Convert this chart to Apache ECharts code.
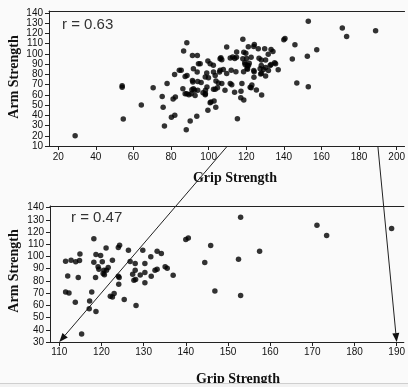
<!DOCTYPE html>
<html>
<head>
<meta charset="utf-8">
<script src="https://cdn.jsdelivr.net/npm/echarts@6/dist/echarts.min.js"></script>
<style>
  html, body { margin: 0; padding: 0; background: #fafafa; }
  #chart { width: 408px; height: 387px; }
</style>
</head>
<body>
<div id="chart"></div>
<script>
// grip vs arm strength, subjects with grip below 110 (top panel only)
const lowGrip = [
  [29,20],[54,69],[54,67.5],[54.6,36.5],[64.2,50],[70.5,67],[75.3,58.5],[75.8,48],[77.9,71],[76.5,29.5],
  [80.2,38],[82,40],[81.1,56],[82.3,58],[81.9,80],[84.4,84],[85.4,84],[86.7,103],[88.4,111],[87.5,78],
  [86.3,66],[87.5,61],[88.4,61],[88.1,26],[90.2,34.5],[90.7,61],[91.1,65],[91.4,74],[91.6,72.5],[91.4,98.6],
  [94,98.6],[94.6,90.5],[91.9,85.6],[93.9,82.3],[92.5,64.4],[92.8,59.5],[94.2,64.4],[93.7,39],[91.9,66],[94.2,73],
  [95.5,90.5],[88.5,79],[99.6,93],[100.8,90.5],[102.5,89],[106.1,95.4],[109.6,106.8],[99,81.4],[102.6,82.3],[106.1,84],
  [107.8,84.7],[109.6,80.8],[98.2,77.4],[99.9,76.8],[105.2,71.6],[107,71],[98.2,60.2],[102.6,65.4],[103.5,65.4],[108.7,64.4],
  [100.8,52.4],[102.9,54],[99.6,45],[103.8,48],[89.5,60],[98.3,64.4],[98.3,61],[99.1,67.7],[103.9,73.5],[106.5,96.3],
  [107,94.4],[105.8,82.3],[103.5,79],[104.7,67],[101.2,53],[97,62],[96,72]
];
// subjects with grip 110 and up (both panels)
const highGrip = [
  [111.5,96],[112.8,97],[113.9,95.6],[114.9,102],[114.8,96.7],[112,84],[114.5,82.7],[111.5,71],[112.3,70],[113.8,62.5],
  [115.3,36.6],[117.2,63.6],[117.1,57.3],[117.7,71],[118.2,114.4],[118.2,95.3],[118.6,82.7],[118.7,54.9],[118.7,101.6],[119.2,91.5],
  [119.4,89.6],[119.8,100.8],[120.2,95.6],[120.6,88.7],[120.4,86],[120.7,85],[121.1,107],[121.2,88.7],[121.6,90.9],[122.6,96.9],
  [122.1,67.4],[122.6,66.9],[123,69.6],[124,107.3],[124.3,109.2],[124,83.8],[124.2,82.7],[124.1,77.3],[125.4,64.7],[126.4,105.1],
  [126.8,95.8],[128,94.2],[128,88.7],[127.4,85.5],[127.7,80.5],[128.1,81.1],[128.2,59.8],[129.2,84.9],[129.8,105.1],[130.3,94.2],
  [130.3,86.8],[130.3,78.4],[131.7,99.7],[131.8,83.8],[132.7,88.7],[133.2,89.6],[133.2,104.3],[134.2,102.4],[135.1,91.5],[135.6,90.4],
  [137,84.6],[140,113.9],[140.6,115.2],[144.5,95],[145.9,108.9],[146.9,71.7],[152.5,97.7],[153,132.1],[153,68],[157.5,104.2],
  [171.1,125.5],[173.4,117.1],[188.8,122.8]
];

const topXTicks = [20, 40, 60, 80, 100, 120, 140, 160, 180, 200];
const topYTicks = [10, 20, 30, 40, 50, 60, 70, 80, 90, 100, 110, 120, 130, 140];
const bottomXTicks = [110, 120, 130, 140, 150, 160, 170, 180, 190];
const bottomYTicks = [30, 40, 50, 60, 70, 80, 90, 100, 110, 120, 130, 140];
const zoomRange = [110, 190];
const rValues = ['r = 0.63', 'r = 0.47'];

const ink = '#222';

function valueAxis(grid, min, max, ticks, margin) {
  return {
    type: 'value',
    gridIndex: grid,
    min: min,
    max: max,
    axisLine: { show: true, onZero: false, lineStyle: { color: ink, width: 1 } },
    axisTick: { show: true, length: 4, customValues: ticks, lineStyle: { color: ink } },
    axisLabel: { customValues: ticks, color: '#111', fontSize: 10, fontFamily: 'Liberation Sans', margin: margin || 6 },
    splitLine: { show: false }
  };
}

// plain line along the top of a panel
function topBorder(grid, min, max) {
  return {
    type: 'value', gridIndex: grid, position: 'top', min: min, max: max,
    axisLine: { show: true, onZero: false, lineStyle: { color: ink, width: 1 } },
    axisTick: { show: false }, axisLabel: { show: false }, splitLine: { show: false }
  };
}

const titleFont = 'bold 14px "Liberation Serif"';

const chart = echarts.init(document.getElementById('chart'));
chart.setOption({
  animation: false,
  backgroundColor: '#fafafa',
  grid: [
    { left: 49, top: 11, width: 359, height: 135 },
    { left: 50, top: 206, width: 358, height: 136 }
  ],
  xAxis: [
    valueAxis(0, 15.1, 204.2, topXTicks),
    topBorder(0, 15.1, 204.2),
    valueAxis(1, 107.8, 191.7, bottomXTicks, 5),
    topBorder(1, 107.8, 191.7)
  ],
  yAxis: [
    valueAxis(0, 10, 142, topYTicks),
    valueAxis(1, 30, 141.3, bottomYTicks)
  ],
  series: [
    {
      type: 'scatter', xAxisIndex: 0, yAxisIndex: 0,
      symbol: 'circle', symbolSize: 5.5,
      itemStyle: { color: '#000' },
      data: lowGrip.concat(highGrip)
    },
    {
      type: 'scatter', xAxisIndex: 2, yAxisIndex: 1,
      symbol: 'circle', symbolSize: 5.5,
      itemStyle: { color: '#000' },
      data: highGrip
    }
  ]
});

function label(text, x, y, font, fill, align, rotation) {
  return {
    type: 'text', x: x, y: y, rotation: rotation || 0,
    style: { text: text, font: font, fill: fill, textAlign: align, align: align, textVerticalAlign: 'middle', verticalAlign: 'middle' }
  };
}

const graphics = [
  label(rValues[0], 62, 25, '15px "Liberation Sans"', '#333', 'left'),
  label(rValues[1], 71, 218, '15px "Liberation Sans"', '#333', 'left'),
  label('Grip Strength', 235, 178, titleFont, '#111', 'center'),
  label('Grip Strength', 238, 379, titleFont, '#111', 'center'),
  label('Arm Strength', 14, 77, titleFont, '#111', 'center', Math.PI / 2),
  label('Arm Strength', 14, 271, titleFont, '#111', 'center', Math.PI / 2)
];

// arrows from the top panel's 110 / 190 down to the zoomed axis ends
zoomRange.forEach(function (v) {
  const from = chart.convertToPixel({ seriesIndex: 0 }, [v, 10]);
  const to = chart.convertToPixel({ seriesIndex: 1 }, [v, 30]);
  const dx = to[0] - from[0], dy = to[1] - from[1];
  const len = Math.sqrt(dx * dx + dy * dy);
  const ux = dx / len, uy = dy / len;
  const bx = to[0] - ux * 9, by = to[1] - uy * 9;
  graphics.push({
    type: 'line',
    shape: { x1: from[0], y1: from[1], x2: bx, y2: by },
    style: { stroke: '#222', lineWidth: 1 }
  });
  graphics.push({
    type: 'polygon',
    shape: { points: [[to[0], to[1]], [bx - uy * 3.5, by + ux * 3.5], [bx + uy * 3.5, by - ux * 3.5]] },
    style: { fill: '#111' }
  });
});

// strip at the very bottom edge
graphics.push({ type: 'rect', shape: { x: 0, y: 383, width: 408, height: 4 }, style: { fill: '#f2f2f2' } });
graphics.push({ type: 'line', shape: { x1: 0, y1: 383.5, x2: 408, y2: 383.5 }, style: { stroke: '#cfcfcf', lineWidth: 1 } });

chart.setOption({ graphic: graphics });
</script>
</body>
</html>
